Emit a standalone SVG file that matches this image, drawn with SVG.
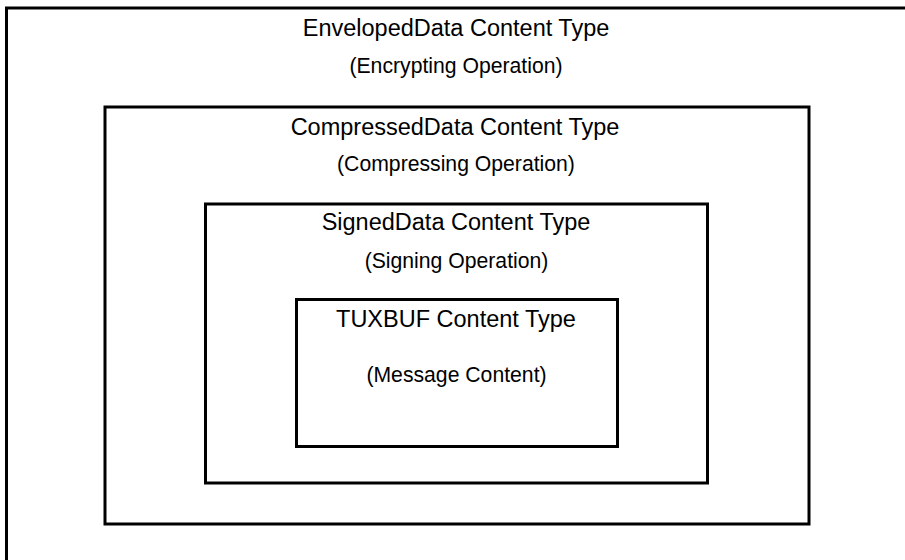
<svg xmlns="http://www.w3.org/2000/svg" width="905" height="560" viewBox="0 0 905 560">
<style>
.box{fill:none;stroke:#000;stroke-width:3}
.t{font-family:"Liberation Sans",Arial,Helvetica,sans-serif;font-size:23.5px;fill:#000;text-anchor:middle}
.s{font-family:"Liberation Sans",Arial,Helvetica,sans-serif;font-size:21.2px;fill:#000;text-anchor:middle}
</style>
<rect width="905" height="560" fill="#fff"/>
<g id="enveloped">
<path class="box" d="M6.5,561 V8 H905"/>
<text class="t" x="456" y="36">EnvelopedData Content Type</text>
<text class="s" x="456" y="73">(Encrypting Operation)</text>
</g>
<g id="compressed">
<rect class="box" x="105" y="107" width="704" height="417"/>
<text class="t" x="455" y="135">CompressedData Content Type</text>
<text class="s" x="456" y="171">(Compressing Operation)</text>
</g>
<g id="signed">
<rect class="box" x="205.5" y="204" width="502" height="279"/>
<text class="t" x="456" y="230">SignedData Content Type</text>
<text class="s" x="456.5" y="268">(Signing Operation)</text>
</g>
<g id="tuxbuf">
<rect class="box" x="296.5" y="299.5" width="321" height="147"/>
<text class="t" x="456" y="327">TUXBUF Content Type</text>
<text class="s" x="456.5" y="382">(Message Content)</text>
</g>
<g id="connectors"></g>
</svg>
